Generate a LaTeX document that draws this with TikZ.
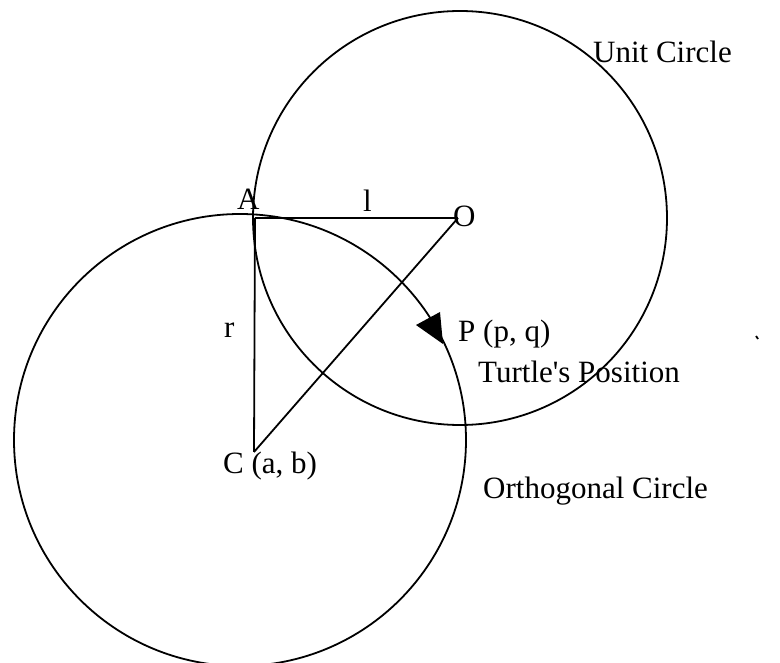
\documentclass[tikz,border=0pt]{standalone}
\usepackage{fontspec}
\setmainfont{Liberation Serif}
\newfontfamily\rawfont{Liberation Serif}
\begin{document}
\begin{tikzpicture}[x=1pt,y=-1pt,
  curve/.style={line width=1.8pt},
  lbl/.style={inner sep=0pt,anchor=base west,font=\rawfont\fontsize{31}{34}\selectfont}]
\useasboundingbox (0,0) rectangle (780,663);
% points
\coordinate (Oc) at (460,218);
\coordinate (Cc) at (240,440);
\coordinate (A) at (255,218);
\coordinate (O) at (458,218);
\coordinate (C) at (254,452);
% circles
\draw[curve] (Oc) circle[radius=207];
\draw[curve] (Cc) circle[radius=226];
% segments
\draw[curve] (A) -- (O);
\draw[curve] (A) -- (C);
\draw[curve] (C) -- (O);
% arrowhead at P
\fill (443,344) -- (416,325) -- (440,312) -- cycle;
% labels
\node[lbl] (tA) at (237,210) {A};
\node[lbl] (tl) at (363,212) {l};
\node[lbl] (tO) at (453,227) {O};
\node[lbl] (tr) at (224,338) {r};
\node[lbl] (tC) at (223,473) {C (a, b)};
\node[lbl] (tP) at (458,342) {P (p, q)};
\node[lbl] (tT) at (478,383) {Turtle's Position};
\node[lbl] (tU) at (593,63) {Unit Circle};
\node[lbl] (tOC) at (483,498) {Orthogonal Circle};
% small scan mark
\draw[line width=1.8pt] (756,336) -- (758,339);
\end{tikzpicture}
\end{document}
